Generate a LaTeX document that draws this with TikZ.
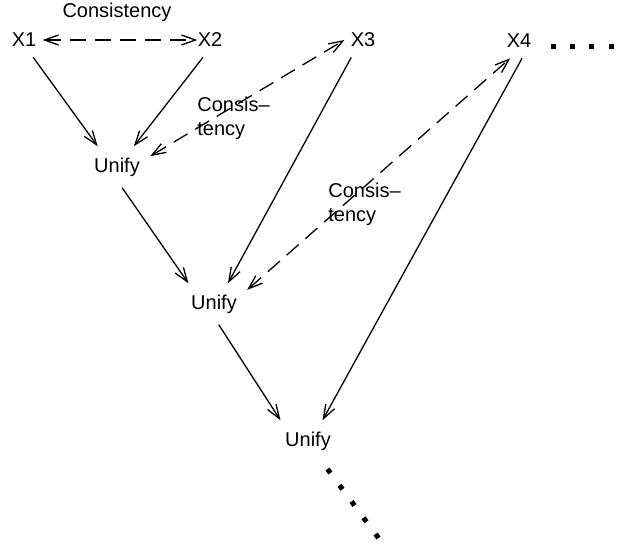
\documentclass[tikz,border=0pt]{standalone}
\usepackage{fontspec}
\setmainfont{Liberation Sans}
\usetikzlibrary{arrows.meta}

\begin{document}
\begin{tikzpicture}[x=0.5pt, y=-0.5pt,
    >={Straight Barb[length=7pt,width=5pt]},
    var/.style={inner xsep=3pt, inner ysep=5pt},
    unify/.style={inner xsep=5pt, inner ysep=5.5pt},
    note/.style={inner sep=0pt, anchor=north west, align=left},
    link/.style={line width=0.65pt, ->},
    cons/.style={line width=0.65pt, <->, dash pattern=on 8pt off 4.5pt},
    more/.style={line width=2.5pt, dash pattern=on 2.5pt off 7.2pt}]
      \useasboundingbox (0,0) rectangle (623,547);
      %
      \node[var] (x1) at (24,40)  {X1};          % inputs
      \node[var] (x2) at (210,40) {X2};
      \node[var] (x3) at (363,40) {X3};
      \node[var] (x4) at (519,41) {X4};
      %
      \node[unify] (u1) at (117,167) {Unify};    % unify steps
      \node[unify] (u2) at (214,304) {Unify};
      \node[unify] (u3) at (308,441) {Unify};
      %
      \node[inner sep=0pt] (c0) at (117,12) {Consistency};
      \node[note] (c1) at (197,97)  {Consis--\\tency};
      \node[note] (c2) at (328,183) {Consis--\\tency};
      %
      \draw[cons, shorten >=-3pt] (x1.east) -- (x2.west); % consistency checks
      \draw[cons] (u1.18) -- (x3.west);
      \draw[cons] (u2.23) -- (x4.-117);
      %
      \draw[link] (x1.-62) -- (u1.133);          % first step
      \draw[link] (x2.-112) -- (u1.51);
      %%
      \draw[link] (u1.-76) -- (u2.141);          % second step
      \draw[link] (x3.-124) -- (u2.56);
      %
      \draw[link] (u2.-77) -- (u3.143);          % third step
      \draw[link] (x4.-80) -- (u3.55);
      %
      \coordinate (h0) at (550.5,46);            % and so on
      \coordinate (h1) at (613.5,46);
      \draw[more] (h0) -- (h1);
      \coordinate (d0) at (327.5,469);
      \coordinate (d1) at (378.5,538);
      \draw[more, dash pattern=on 2.5pt off 7.6pt] (d0) -- (d1);
      %
    \end{tikzpicture}
\end{document}
